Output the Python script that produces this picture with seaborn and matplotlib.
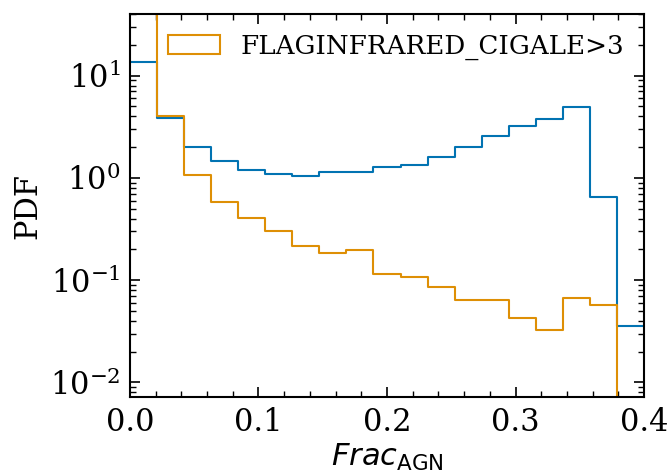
import numpy as np
import pandas as pd
import matplotlib
matplotlib.use("Agg")
import matplotlib.pyplot as plt
from matplotlib.patches import Patch
import seaborn as sns

# Bin edges (19 equal bins from 0 to 0.4)
bin_edges = list(np.linspace(0.0, 0.4, 20))
bin_centers = [0.5 * (a + b) for a, b in zip(bin_edges[:-1], bin_edges[1:])]

# PDF values
pdf_all = [13.5, 3.83, 2.02, 1.46, 1.20, 1.10, 1.04, 1.14, 1.15, 1.28,
           1.35, 1.61, 1.99, 2.57, 3.20, 3.75, 4.91, 0.652, 0.036]
pdf_flag = [55.0, 4.04, 1.07, 0.586, 0.409, 0.305, 0.218, 0.186, 0.196, 0.114,
            0.108, 0.0854, 0.0646, 0.0646, 0.043, 0.0325, 0.0676, 0.0574, 0.0]

flag_label = "FLAGINFRARED_CIGALE>3"
x_label = r"$Frac_{\rm AGN}$"
y_label = "PDF"

df_all = pd.DataFrame({"frac": bin_centers, "pdf": pdf_all})
df_flag = pd.DataFrame({"frac": bin_centers, "pdf": pdf_flag})

sns.set_theme(style="ticks", palette="colorblind")
plt.rcParams["font.family"] = ["DejaVu Serif"]
plt.rcParams["mathtext.fontset"] = "dejavusans"
plt.rcParams["text.color"] = "black"
plt.rcParams["axes.labelcolor"] = "black"
plt.rcParams["xtick.color"] = "black"
plt.rcParams["ytick.color"] = "black"

pal = sns.color_palette("colorblind")
c_all, c_flag = pal[0], pal[1]

fig, ax = plt.subplots(figsize=(6.71, 4.72), dpi=100)
fig.subplots_adjust(left=0.1937, right=0.9598, top=0.9703, bottom=0.1589)

sns.histplot(data=df_all, x="frac", weights="pdf", bins=bin_edges, element="step",
             fill=False, color=c_all, linewidth=1.5, ax=ax)
sns.histplot(data=df_flag, x="frac", weights="pdf", bins=bin_edges, element="step",
             fill=False, color=c_flag, linewidth=1.5, ax=ax)

ax.set_yscale("log")
ax.set_xlim(0.0, 0.4)
ax.set_ylim(0.0072, 40)
ax.set_xticks([0.0, 0.1, 0.2, 0.3, 0.4])
ax.xaxis.set_minor_locator(matplotlib.ticker.MultipleLocator(0.02))

ax.tick_params(which="both", direction="in", top=True, right=True, labelsize=22,
               color="black", labelcolor="black", pad=7)
ax.tick_params(which="major", length=7, width=1.2)
ax.tick_params(which="minor", length=4, width=1.0)
for s in ax.spines.values():
    s.set_color("black")
    s.set_linewidth(1.5)

ax.set_xlabel(x_label, fontsize=22, color="black", labelpad=3)
ax.set_ylabel(y_label, fontsize=22, color="black", labelpad=4.5)

handle = Patch(facecolor="none", edgecolor=c_flag, linewidth=1.5, label=flag_label)
leg = ax.legend(handles=[handle], loc="upper right", frameon=False, fontsize=18.8,
                borderaxespad=0.35)
for t in leg.get_texts():
    t.set_color("black")

fig.savefig("out.png", dpi=100)
